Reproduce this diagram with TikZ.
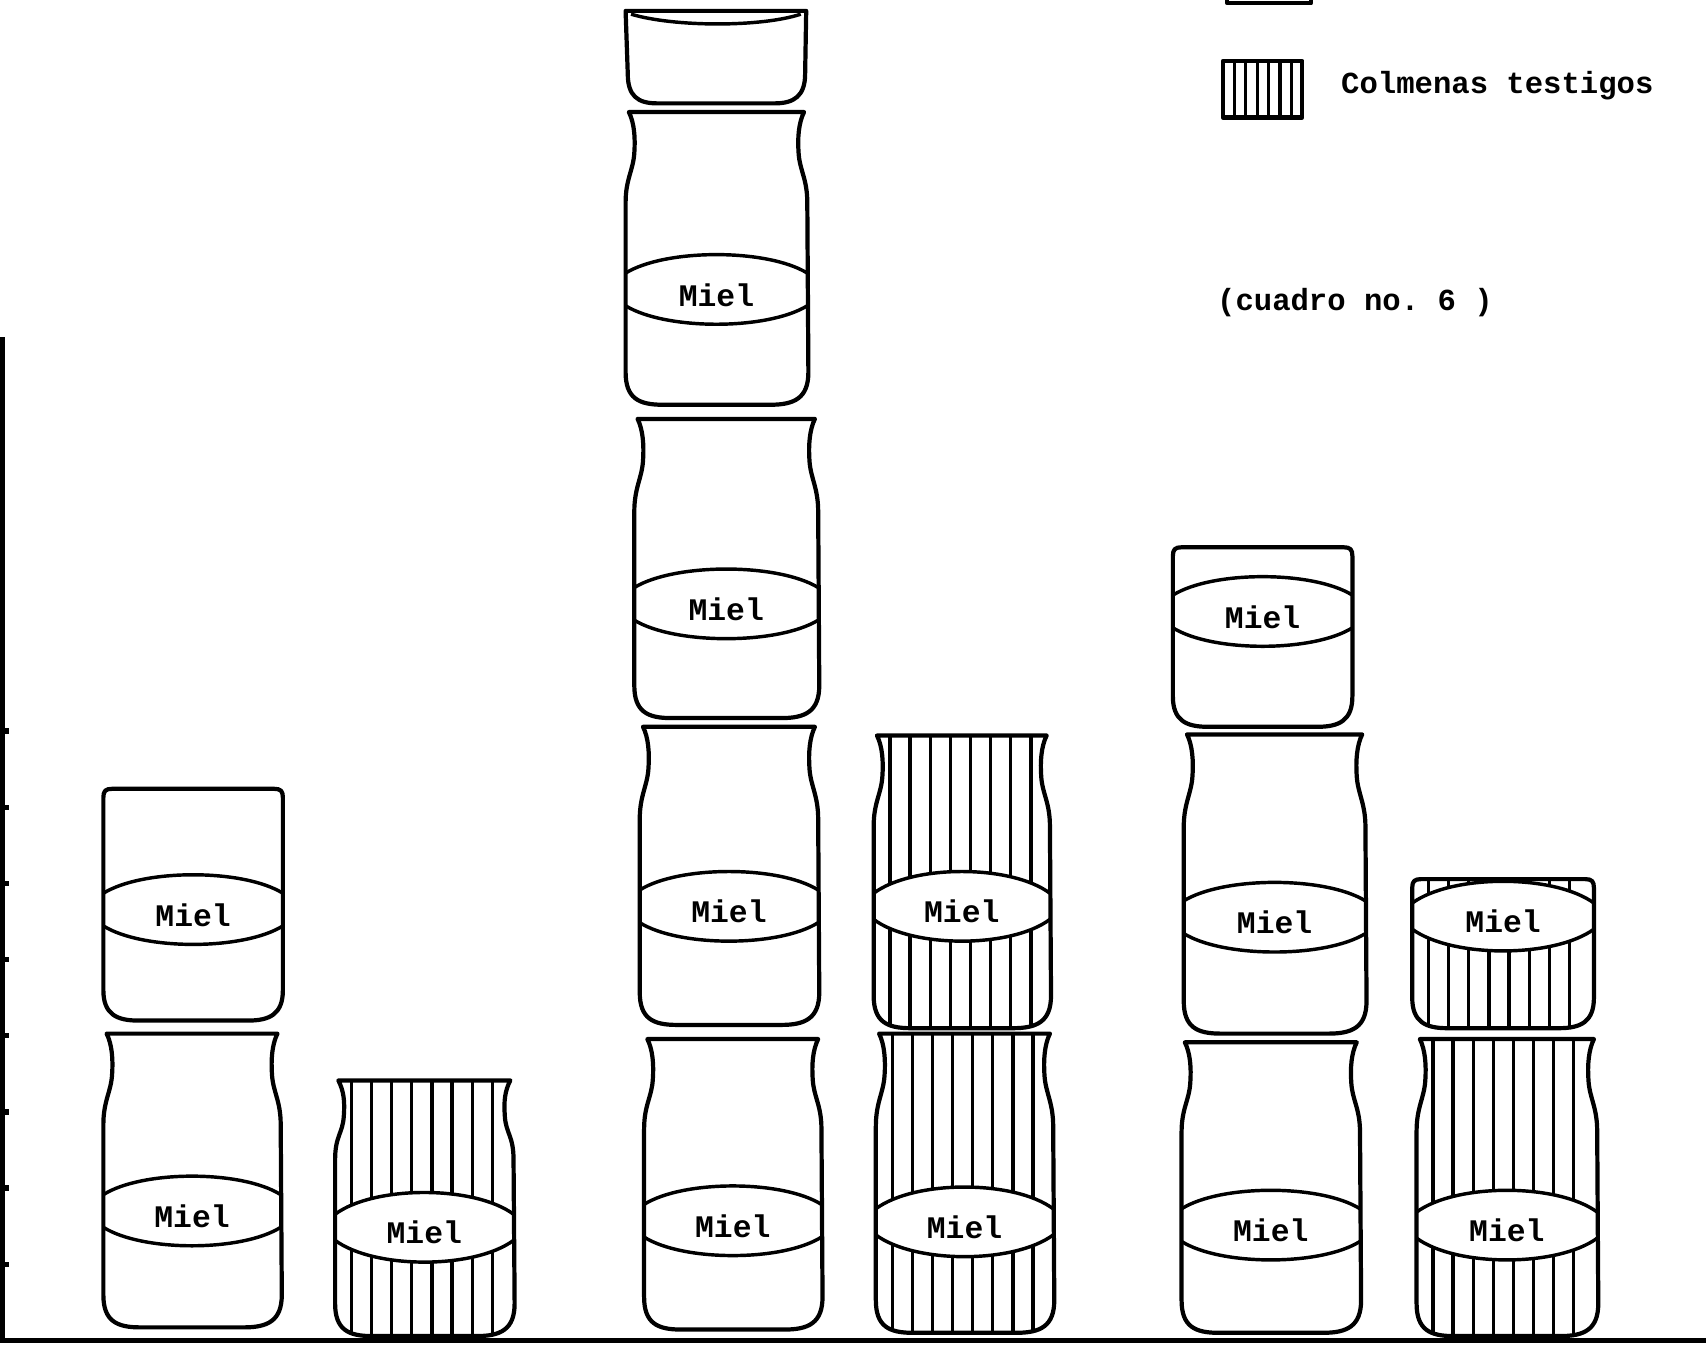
\documentclass[tikz,border=0pt]{standalone}
\usepackage{fontspec}
\setmonofont{Liberation Mono}

\newcommand{\jarneck}{(\jL+3,\jT) -- (\jR-3,\jT)
  .. controls (\jR-8,\jT+10) and (\jR-9,\jN-14) .. (\jR-8,\jN)
  .. controls (\jR-7,\jN+16) and (\jR,\jS-22) .. (\jR,\jS)
  -- (\jR+1,\jB-30)
  .. controls (\jR+1,\jB-6) and (\jR-12,\jB) .. (\jR-34,\jB)
  -- (\jL+34,\jB)
  .. controls (\jL+12,\jB) and (\jL,\jB-6) .. (\jL,\jB-30)
  -- (\jL,\jS)
  .. controls (\jL,\jS-22) and (\jL+7,\jN+16) .. (\jL+8,\jN)
  .. controls (\jL+9,\jN-14) and (\jL+8,\jT+10) .. (\jL+3,\jT) -- cycle}
\newcommand{\jarbox}{(\jL+8,\jT) -- (\jR-8,\jT)
  .. controls (\jR-2,\jT) and (\jR,\jT+2) .. (\jR,\jT+8)
  -- (\jR,\jB-28)
  .. controls (\jR,\jB-6) and (\jR-12,\jB) .. (\jR-32,\jB)
  -- (\jL+32,\jB)
  .. controls (\jL+12,\jB) and (\jL,\jB-6) .. (\jL,\jB-28)
  -- (\jL,\jT+8)
  .. controls (\jL,\jT+2) and (\jL+2,\jT) .. (\jL+8,\jT) -- cycle}
\newcommand{\mieltop}{(\jL,\jYa) .. controls (\jL+\jq,\jYa-\jK) and (\jR-\jq,\jYa-\jK) .. (\jR,\jYa)}
\newcommand{\mielbot}{(\jL,\jYb) .. controls (\jL+\jq,\jYb+\jK) and (\jR-\jq,\jYb+\jK) .. (\jR,\jYb)}
\newcommand{\mielband}{\mieltop -- (\jR,\jYb) .. controls (\jR-\jq,\jYb+\jK) and (\jL+\jq,\jYb+\jK) .. (\jL,\jYb) -- cycle}
\newcommand{\setjar}[6]{%
  \expandafter\let\expandafter\jarpath\csname jar#1\endcsname
  \pgfmathsetmacro\jL{#2}%
  \pgfmathsetmacro\jR{#3}%
  \pgfmathsetmacro\jT{#4}%
  \pgfmathsetmacro\jB{#5}%
  \pgfmathsetmacro\jN{#4+0.14*(#5-#4)}%
  \pgfmathsetmacro\jS{#4+0.31*(#5-#4)}%
  \pgfmathsetmacro\jq{0.22*(#3-#2)}%
  \pgfmathsetmacro\jK{1.333*\bandbulge}%
  \pgfmathsetmacro\jYa{#6-\bandhalf}%
  \pgfmathsetmacro\jYb{#6+\bandhalf}%
  \pgfmathsetmacro\jX{(#2+#3)/2}%
  \pgfmathsetmacro\jY{#6+5}%
  \pgfmathsetmacro\hA{#2+15}%
  \pgfmathsetmacro\hB{#2+33.5}%
  \pgfmathsetmacro\hE{#3-8}%
}

\tikzset{
  jar line/.style={line width=1.1pt, line join=round, line cap=round},
  band line/.style={line width=0.9pt},
  hatch line/.style={line width=0.85pt},
  axis line/.style={line width=1.4pt},
  miel/.style={font=\ttfamily\bfseries\fontsize{8.2}{8.2}\selectfont, inner sep=0pt},
  legend text/.style={font=\ttfamily\bfseries\fontsize{8}{8}\selectfont, inner sep=0pt, anchor=west},
  pics/jar/.style n args={6}{code={%
    \def\bandhalf{15}\def\bandbulge{17}%
    \setjar{#1}{#2}{#3}{#4}{#5}{#6}%
    \draw[band line] \mieltop;
    \draw[band line] \mielbot;
    \draw[jar line] \jarpath;
    \node[miel] (-label) at (\jX,\jY) {Miel};
  }},
  pics/hatched jar/.style n args={6}{code={%
    \def\bandhalf{12}\def\bandbulge{20}%
    \setjar{#1}{#2}{#3}{#4}{#5}{#6}%
    \begin{scope}
      \clip \jarpath;
      \foreach \hx in {\hA,\hB,...,\hE} \draw[hatch line] (\hx,\jT) -- (\hx,\jB);
    \end{scope}
    \fill[white] \mielband;
    \draw[band line] \mieltop;
    \draw[band line] \mielbot;
    \draw[jar line] \jarpath;
    \node[miel] (-label) at (\jX,\jY) {Miel};
  }},
}

\begin{document}
\begin{tikzpicture}[x=0.01cm, y=-0.01cm]
\useasboundingbox (0,0) rectangle (1568,1238);

\draw[axis line] (2,310) -- (2,1232) -- (1568,1232);
\foreach \ty in {672,742,...,1162} \draw[axis line] (2,\ty) -- (8,\ty);

\pic (mielA1) {jar={neck}{95}{258}{950}{1220}{1113}};
\pic (mielA2) {jar={box}{95}{260}{725}{938}{836}};
\pic (testigoA1) {hatched jar={neck}{308}{472}{993}{1228}{1128}};

\pic (mielB1) {jar={neck}{592}{755}{955}{1222}{1122}};
\pic (mielB2) {jar={neck}{588}{752}{668}{942}{833}};
\pic (mielB3) {jar={neck}{583}{752}{385}{660}{555}};
\pic (mielB4) {jar={neck}{575}{742}{103}{372}{266}};
\draw[jar line] (575,10) -- (741,10) -- (740,68) .. controls (740,88) and (730,95) .. (712,95)
  -- (604,95) .. controls (586,95) and (577,88) .. (577,68) -- cycle;
\draw[band line] (580,13) .. controls (620,25) and (700,25) .. (736,13);
\pic (testigoB1) {hatched jar={neck}{805}{968}{950}{1225}{1123}};
\pic (testigoB2) {hatched jar={neck}{803}{965}{676}{945}{833}};

\pic (mielC1) {jar={neck}{1086}{1250}{958}{1225}{1126}};
\pic (mielC2) {jar={neck}{1088}{1255}{675}{950}{843}};
\pic (mielC3) {jar={box}{1078}{1243}{503}{668}{562}};
\pic (testigoC1) {hatched jar={neck}{1302}{1468}{955}{1228}{1126}};
\pic (testigoC2) {hatched jar={box}{1298}{1465}{808}{945}{842}};

\draw[jar line] (1128,-30) rectangle (1205,3);
\draw[jar line] (1124,56) rectangle (1197,108);
\foreach \lx in {1134.5,1145,...,1187} \draw[hatch line] (\lx,56) -- (\lx,108);
\node[legend text] (testigos) at (1232,79) {Colmenas testigos};
\node[legend text] (cuadro) at (1118,278) {(cuadro no.\ 6 )};
\end{tikzpicture}
\end{document}
